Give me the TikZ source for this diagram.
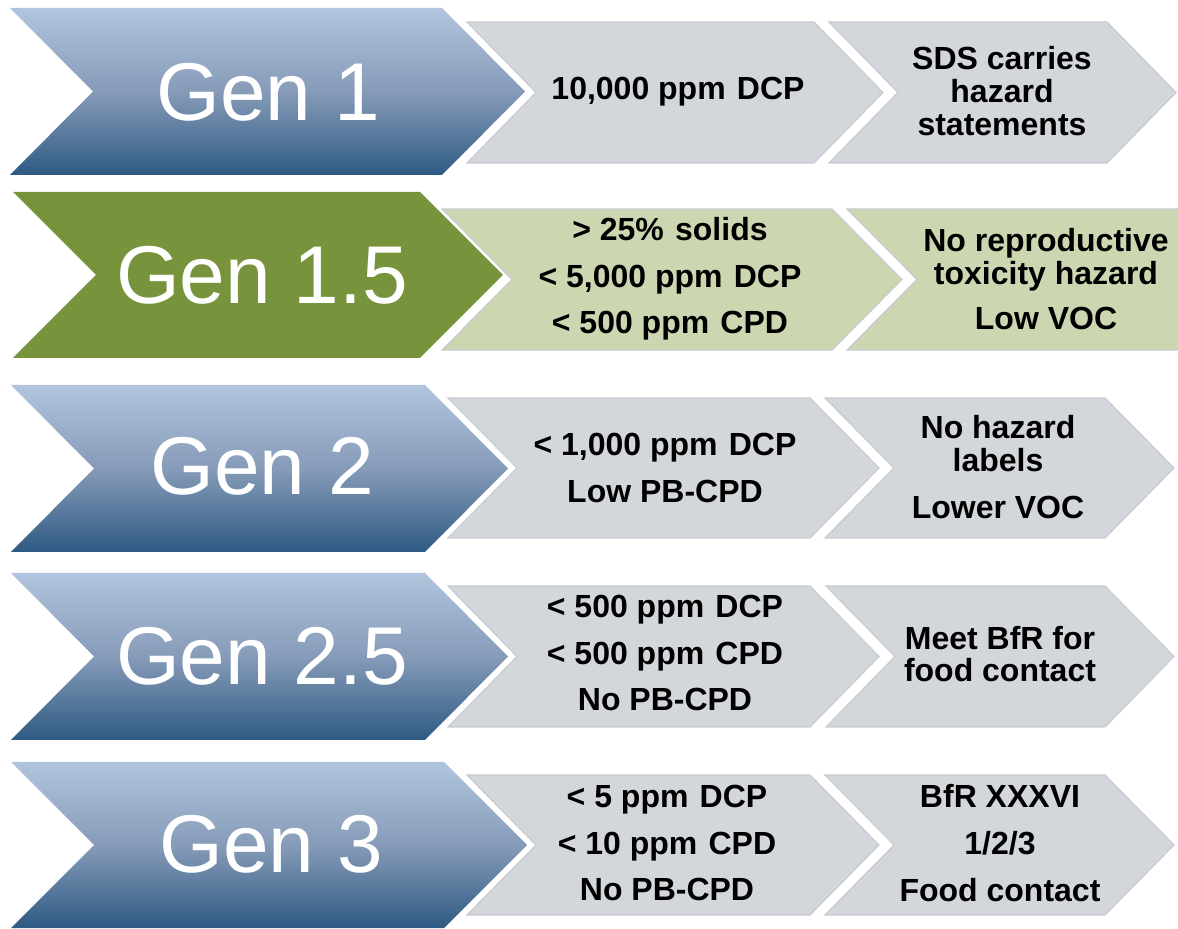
\documentclass[tikz,border=0pt]{standalone}
\usepackage{fontspec}
\setmainfont{Liberation Sans}
\definecolor{bluetop}{RGB}{178,197,222}
\definecolor{bluemid}{RGB}{134,155,184}
\definecolor{bluebot}{RGB}{46,90,131}
\definecolor{olive}{RGB}{119,147,60}
\definecolor{palegreen}{RGB}{204,215,178}
\definecolor{panelgray}{RGB}{211,214,219}
\definecolor{paneledge}{RGB}{200,203,209}
\newcommand\chevshape[6]{% style, L, T, B, right corner, depth
  \path[#1] (#2,#3) -- (#5,#3) -- ({#5+#6},{(#3+#4)/2}) -- (#5,#4) -- (#2,#4) -- ({#2+#6},{(#3+#4)/2}) -- cycle;}
\tikzset{
  bigblue/.style={top color=bluetop, bottom color=bluebot, middle color=bluemid},
  biggreen/.style={fill=olive},
  graypanel/.style={fill=panelgray, draw=paneledge, line width=0.6pt},
  greenpanel/.style={fill=palegreen, draw=paneledge, line width=0.6pt},
  gentext/.style={text=white, font=\fontsize{41}{41}\selectfont, inner sep=0pt},
  celltext/.style={text=black, align=center, inner sep=0pt, font=\bfseries\fontsize{16}{16.3}\selectfont}
}
\newcommand\wsp{\hspace{0.35em}}
\begin{document}
\begin{tikzpicture}[x=0.5pt,y=-0.5pt]
\useasboundingbox (0,0) rectangle (1178,929);
\fill[white] (0,0) rectangle (1178,929);
\clip (0,0) rectangle (1178,929);
% Row 1
\chevshape{bigblue}{10}{8}{175}{442}{83}
\chevshape{graypanel}{467}{22}{163}{814}{69}
\chevshape{graypanel}{829}{22}{163}{1107}{69}
\node[gentext] (g1) at (268,92) {Gen 1};
\node[celltext] (a1) at (678,92) {10,000 ppm\wsp DCP};
\node[celltext] (b1) at (1002,91) {SDS carries\\hazard\\statements};
% Row 2
\chevshape{biggreen}{13}{192}{358}{420}{83}
\chevshape{greenpanel}{442}{209}{350}{832}{70}
\chevshape{greenpanel}{847}{209}{350}{1230}{70}
\node[gentext] (g2) at (262,275) {Gen 1.5};
\node[celltext] (a2) at (670,279) {> 25\%\wsp solids\\[7pt]< 5,000 ppm\wsp DCP\\[7pt]< 500 ppm\wsp CPD};
\node[celltext] (b2) at (1046,279) {No reproductive\\toxicity hazard\\[6pt]Low VOC};
% Row 3
\chevshape{bigblue}{11}{385}{552}{425}{83}
\chevshape{graypanel}{448}{398}{538}{810}{69}
\chevshape{graypanel}{825}{398}{538}{1105}{69}
\node[gentext] (g3) at (262,466) {Gen 2};
\node[celltext] (a3) at (665,468) {< 1,000 ppm\wsp DCP\\[7pt]Low PB-CPD};
\node[celltext] (b3) at (998,467) {No hazard\\labels\\[7pt]Lower VOC};
% Row 4
\chevshape{bigblue}{11}{573}{740}{425}{83}
\chevshape{graypanel}{448}{586}{727}{810}{69}
\chevshape{graypanel}{826}{586}{727}{1105}{69}
\node[gentext] (g4) at (262,656) {Gen 2.5};
\node[celltext] (a4) at (665,653) {< 500 ppm\wsp DCP\\[7pt]< 500 ppm\wsp CPD\\[7pt]No PB-CPD};
\node[celltext] (b4) at (1000,654) {Meet BfR for\\food contact};
% Row 5
\chevshape{bigblue}{11}{762}{928}{444}{83}
\chevshape{graypanel}{467}{775}{915}{810}{69}
\chevshape{graypanel}{825}{775}{915}{1105}{69}
\node[gentext] (g5) at (271,844) {Gen 3};
\node[celltext] (a5) at (667,843) {< 5 ppm\wsp DCP\\[7pt]< 10 ppm\wsp CPD\\[7pt]No PB-CPD};
\node[celltext] (b5) at (1000,843) {BfR XXXVI\\[7pt]1/2/3\\[7pt]Food contact};
\end{tikzpicture}
\end{document}
